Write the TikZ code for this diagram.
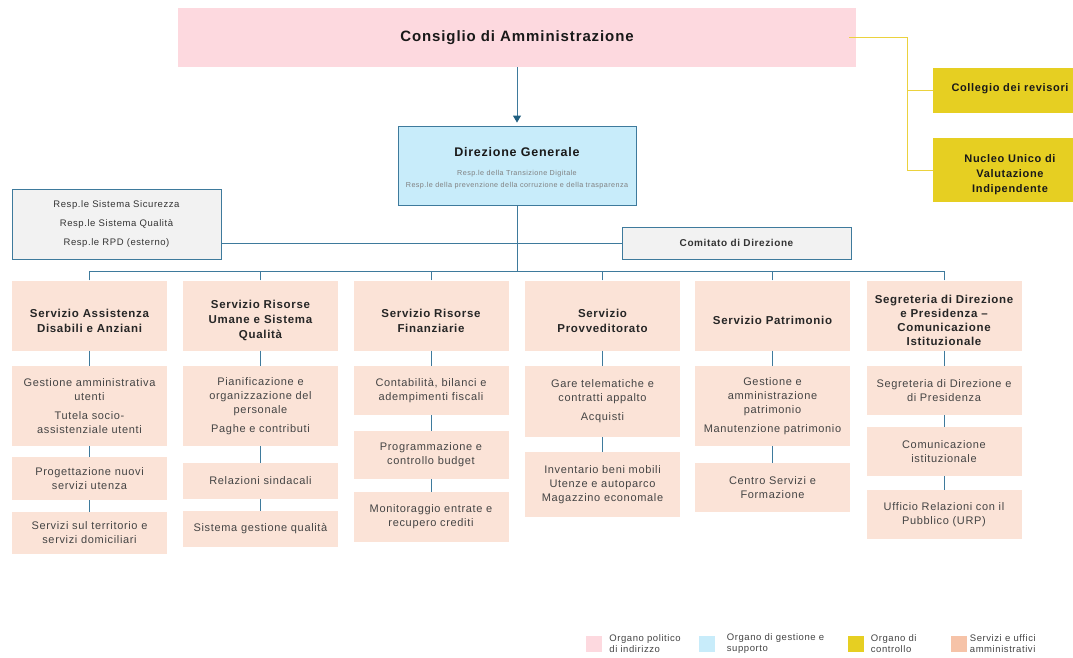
\documentclass[tikz,border=0pt]{standalone}
\usepackage{fontspec}
\setmainfont{Liberation Sans}[LetterSpace=6]
\usetikzlibrary{arrows.meta,positioning}

\definecolor{cdapink}{HTML}{FDD9DF}
\definecolor{dgblue}{HTML}{C8ECFA}
\definecolor{ctrlyellow}{HTML}{E6CF22}
\definecolor{yline}{HTML}{EBD23E}
\definecolor{servpeach}{HTML}{FBE3D7}
\definecolor{legpeach}{HTML}{F6C3A8}
\definecolor{staffgray}{HTML}{F2F2F2}
\definecolor{linkblue}{HTML}{3E7A9C}
\definecolor{arrowblue}{HTML}{1F5F80}
\definecolor{txtgray}{HTML}{444444}

% abbassa il testo nelle intestazioni
\newcommand{\headlift}[1][19pt]{\rule{0pt}{#1}}

\begin{document}
\begin{tikzpicture}[x=1pt,y=-1pt,
  every node/.style={align=center, inner sep=0pt},
  unit/.style={fill=servpeach, minimum width=155pt, text=txtgray, font=\fontsize{11}{14}\selectfont},
  head/.style={unit, minimum height=70pt, text=black!85, font=\bfseries\fontsize{11.5}{15}\selectfont},
  staff/.style={draw=linkblue, fill=staffgray, line width=0.9pt, text=black!80, font=\fontsize{9.5}{13}\selectfont},
  ctrl/.style={fill=ctrlyellow, minimum width=154pt, text=black!90, font=\bfseries\fontsize{11}{15}\selectfont},
  link/.style={draw=linkblue, line width=0.9pt},
  legsw/.style={minimum size=16pt},
  legtxt/.style={anchor=west, align=left, text=txtgray, font=\fontsize{9.5}{10.5}\selectfont}
  ]
  \useasboundingbox (0,0) rectangle (1073,657);
  \fill[white] (0,0) rectangle (1073,657);

  % vertice
  \node[fill=cdapink, minimum width=678pt, minimum height=59pt, text=black!90,
        font=\bfseries\fontsize{15}{18}\selectfont] (cda) at (517,37.5) {Consiglio di Amministrazione};
  \node[draw=linkblue, fill=dgblue, line width=0.9pt, minimum width=238pt, minimum height=79pt,
        text=gray, font=\fontsize{7.2}{12}\selectfont] (dg) at (517,165.5)
        {{\color{black!90}\bfseries\fontsize{12.5}{15}\selectfont\rule{0pt}{14pt}Direzione Generale}\\[7pt]
         Resp.le della Transizione Digitale\\
         Resp.le della prevenzione della corruzione e della trasparenza};

  % organi di controllo
  \node[ctrl, minimum height=45pt] (collegio) at (1010,90.5) {\rule[-6pt]{0pt}{6pt}Collegio dei revisori};
  \node[ctrl, minimum height=64pt] (nucleo) at (1010,170) {\headlift[17pt]Nucleo Unico di\\Valutazione\\Indipendente};

  % staff
  \node[staff, minimum width=209pt, minimum height=70pt] (resp) at (116.5,224)
        {Resp.le Sistema Sicurezza\\[6pt]Resp.le Sistema Qualità\\[6pt]Resp.le RPD (esterno)};
  \node[staff, minimum width=229pt, minimum height=32pt, font=\bfseries\fontsize{10}{12}\selectfont]
        (comitato) at (736.5,243) {Comitato di Direzione};

  % servizi
  \node[head] (h1) at (89.5,315.5) {\headlift Servizio Assistenza\\Disabili e Anziani};
  \node[head] (h2) at (260.5,315.5) {\headlift Servizio Risorse\\Umane e Sistema\\Qualità};
  \node[head] (h3) at (431,315.5) {\headlift Servizio Risorse\\Finanziarie};
  \node[head] (h4) at (602.5,315.5) {\headlift Servizio\\Provveditorato};
  \node[head] (h5) at (772.5,315.5) {\headlift Servizio Patrimonio};
  \node[head, font=\bfseries\fontsize{11.5}{14}\selectfont] (h6) at (944,315.5)
        {\headlift Segreteria di Direzione\\e Presidenza --\\Comunicazione\\Istituzionale};

  % uffici
  \node[unit, minimum height=80pt] (a1) at (89.5,406) {Gestione amministrativa\\utenti\\[5pt]Tutela socio-\\assistenziale utenti};
  \node[unit, minimum height=43pt] (b1) at (89.5,478.5) {Progettazione nuovi\\servizi utenza};
  \node[unit, minimum height=42pt] (c1) at (89.5,533) {Servizi sul territorio e\\servizi domiciliari};

  \node[unit, minimum height=80pt] (a2) at (260.5,406) {Pianificazione e\\organizzazione del\\personale\\[5pt]Paghe e contributi};
  \node[unit, minimum height=36pt] (b2) at (260.5,481) {Relazioni sindacali};
  \node[unit, minimum height=36pt] (c2) at (260.5,529) {Sistema gestione qualità};

  \node[unit, minimum height=49pt] (a3) at (431,390.5) {Contabilità, bilanci e\\adempimenti fiscali};
  \node[unit, minimum height=48pt] (b3) at (431,455) {Programmazione e\\controllo budget};
  \node[unit, minimum height=50pt] (c3) at (431,517) {Monitoraggio entrate e\\recupero crediti};

  \node[unit, minimum height=71pt] (a4) at (602.5,401.5) {Gare telematiche e\\contratti appalto\\[5pt]Acquisti};
  \node[unit, minimum height=65pt] (b4) at (602.5,484.5) {Inventario beni mobili\\Utenze e autoparco\\Magazzino economale};

  \node[unit, minimum height=80pt] (a5) at (772.5,406) {Gestione e\\amministrazione\\patrimonio\\[5pt]Manutenzione patrimonio};
  \node[unit, minimum height=49pt] (b5) at (772.5,487.5) {Centro Servizi e\\Formazione};

  \node[unit, minimum height=49pt] (a6) at (944,390.5) {Segreteria di Direzione e\\di Presidenza};
  \node[unit, minimum height=49pt] (b6) at (944,451.5) {Comunicazione\\istituzionale};
  \node[unit, minimum height=49pt] (c6) at (944,514.5) {Ufficio Relazioni con il\\Pubblico (URP)};

  % collegamenti
  \draw[draw=linkblue, line width=0.9pt, shorten >=3pt,
        -{Triangle[length=7pt,width=8pt,color=arrowblue]}] (cda) -- (dg);
  \coordinate (yv) at (907,37.5);
  \draw[yline, line width=0.9pt] ([xshift=-7pt]cda.east) -- (yv) |- (collegio.west);
  \draw[yline, line width=0.9pt] (yv) |- (nucleo.west);

  \coordinate (bus) at (89.5,271);
  \draw[link] (dg) -- (dg |- bus);
  \draw[link] (bus) -- (h6.north |- bus);
  \draw[link] (resp.east |- comitato) -- (comitato);
  \foreach \h in {h1,h2,h3,h4,h5,h6}
    \draw[link] (\h.north) -- (\h.north |- bus);
  \foreach \u/\l in {h1/a1,a1/b1,b1/c1,h2/a2,a2/b2,b2/c2,h3/a3,a3/b3,b3/c3,
                     h4/a4,a4/b4,h5/a5,a5/b5,h6/a6,a6/b6,b6/c6}
    \draw[link] (\u) -- (\l);

  % legenda
  \node[legsw, fill=cdapink] (lg1) at (594,643.5) {};
  \node[legsw, fill=dgblue] (lg2) at (706.5,643.5) {};
  \node[legsw, fill=ctrlyellow] (lg3) at (855.5,643.5) {};
  \node[legsw, fill=legpeach] (lg4) at (958.5,643.5) {};
  \node[legtxt, right=7pt of lg1] (lt1) {Organo politico\\di indirizzo};
  \node[legtxt, right=12pt of lg2] (lt2) {Organo di gestione e\\supporto};
  \node[legtxt, right=7pt of lg3] (lt3) {Organo di\\controllo};
  \node[legtxt, right=3pt of lg4] (lt4) {Servizi e uffici\\amministrativi};
\end{tikzpicture}
\end{document}
